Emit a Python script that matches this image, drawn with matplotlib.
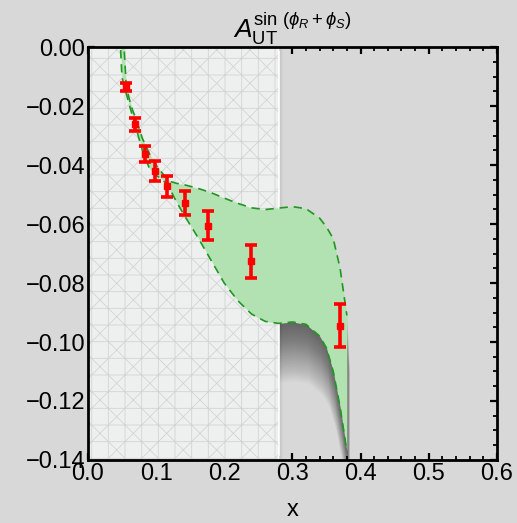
import numpy as np
import matplotlib
matplotlib.use("Agg")
import matplotlib.pyplot as plt
from matplotlib.ticker import MultipleLocator, FuncFormatter

plt.rcParams['font.family'] = ['Liberation Sans', 'DejaVu Sans']
plt.rcParams['mathtext.fontset'] = 'custom'
plt.rcParams['mathtext.rm'] = 'Liberation Sans'
plt.rcParams['mathtext.it'] = 'Liberation Sans:italic'
plt.rcParams['mathtext.sf'] = 'Liberation Sans'
plt.rcParams['hatch.color'] = '#d3d5d4'
plt.rcParams['hatch.linewidth'] = 0.6

# data points with errors
x_pts = [0.056, 0.069, 0.084, 0.098, 0.116, 0.142, 0.176, 0.239, 0.370]
y_pts = [-0.0136, -0.0262, -0.0364, -0.0421, -0.0472, -0.0530, -0.0605, -0.0727, -0.0945]
y_err = [0.0014, 0.0022, 0.0027, 0.0034, 0.0036, 0.0041, 0.0048, 0.0056, 0.0073]

# model band
band_x = [0.048, 0.050, 0.053, 0.056, 0.060, 0.065, 0.070, 0.080, 0.090, 0.100,
          0.110, 0.120, 0.130, 0.140, 0.160, 0.180, 0.200, 0.220, 0.240, 0.260,
          0.280, 0.300, 0.320, 0.340, 0.350, 0.360, 0.370, 0.380]
band_hi = [0.008, 0.005, 0.0, -0.012, -0.017, -0.021, -0.024, -0.031, -0.036, -0.040,
           -0.043, -0.0455, -0.0462, -0.0466, -0.0478, -0.0493, -0.0512, -0.0530, -0.0545, -0.0551,
           -0.0546, -0.0541, -0.0548, -0.058, -0.061, -0.065, -0.075, -0.091]
band_lo = [-0.001, -0.010, -0.0135, -0.0155, -0.019, -0.023, -0.027, -0.035, -0.041, -0.0435,
           -0.045, -0.048, -0.0525, -0.0565, -0.064, -0.072, -0.080, -0.086, -0.0905, -0.093,
           -0.0937, -0.0932, -0.094, -0.098, -0.102, -0.110, -0.122, -0.137]

# excluded region
x_cut = 0.28

bg = '#d8d8d8'
fig = plt.figure(figsize=(5.17, 5.23), dpi=100, facecolor=bg)
ax = fig.add_axes([0.170, 0.1205, 0.791, 0.7895])
ax.set_facecolor(bg)

bx = np.array(band_x)
hi = np.array(band_hi)
lo = np.array(band_lo)

# soft drop shadow under the band
for k in range(1, 41):
    d = 0.0005 * k
    ax.fill_between(bx + 0.0001 * k, hi - d, lo - d, color='black', alpha=0.016, lw=0, zorder=1)
# faint shadow right of the excluded region
for k in range(1, 6):
    ax.axvspan(0, x_cut + 0.0012 * k, color='black', alpha=0.025, lw=0, zorder=1)

ax.axvspan(0, x_cut, facecolor='#eef0ef', edgecolor='#d3d5d4', hatch='+x', lw=0, zorder=2)
ax.axvline(x_cut, color='white', lw=1.2, zorder=2)

ax.fill_between(bx, hi, lo, color='#b2e2b2', lw=0, zorder=3)
ax.plot(bx, hi, color='#229522', lw=1.2, dashes=(5, 3.5), zorder=4)
ax.plot(bx, lo, color='#229522', lw=1.2, dashes=(5, 3.5), zorder=4)

ax.errorbar(x_pts, y_pts, yerr=y_err, fmt='s', color='#ff0000', ms=4,
            elinewidth=2.6, capsize=4.5, capthick=2.6, zorder=5)

ax.set_xlim(0, 0.6)
ax.set_ylim(-0.14, 0.0)
ax.xaxis.set_major_locator(MultipleLocator(0.1))
ax.xaxis.set_minor_locator(MultipleLocator(0.02))
ax.yaxis.set_major_locator(MultipleLocator(0.02))
ax.yaxis.set_minor_locator(MultipleLocator(0.005))
ax.xaxis.set_major_formatter(FuncFormatter(lambda v, p: ('%.1f' % v).replace('-', '\u2212')))
ax.yaxis.set_major_formatter(FuncFormatter(lambda v, p: ('%.2f' % (v + 0.0)).replace('-', '\u2212')))
ax.tick_params(which='both', direction='in', top=True, right=True, labelsize=17, width=1.6, pad=2)
ax.tick_params(which='major', length=5)
ax.tick_params(which='minor', length=3, width=1.3)
for s in ax.spines.values():
    s.set_linewidth(2)
    s.set_zorder(6)

ax.set_xlabel('x', fontsize=17, labelpad=10)
ax.set_title(r'$A_{\mathrm{UT}}^{\sin\,(\phi_R+\phi_S)}$', fontsize=19, pad=6)

fig.savefig('out.png', dpi=100, facecolor=bg)
